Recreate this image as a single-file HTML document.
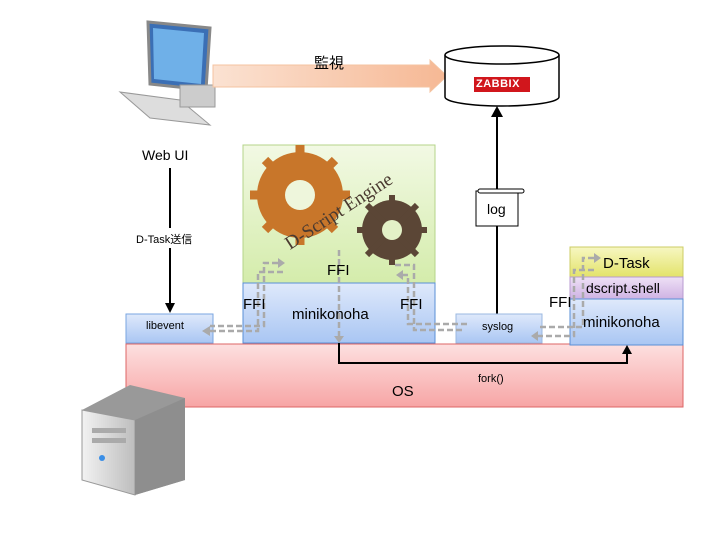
<!DOCTYPE html>
<html><head><meta charset="utf-8"><style>
body{margin:0;width:720px;height:540px;background:#fff;position:relative;overflow:hidden;font-family:"Liberation Sans","Noto Sans CJK JP",sans-serif}
.a{position:absolute}
</style></head><body>
<svg class="a" style="left:0;top:0" width="720" height="540">
<defs>
<linearGradient id="bl" x1="0" y1="0" x2="0" y2="1"><stop offset="0" stop-color="#dfe9fb"/><stop offset="1" stop-color="#a9c6f3"/></linearGradient>
<linearGradient id="rd" x1="0" y1="0" x2="0" y2="1"><stop offset="0" stop-color="#fde0e0"/><stop offset="1" stop-color="#f7a5a5"/></linearGradient>
<linearGradient id="gr" x1="0" y1="0" x2="0" y2="1"><stop offset="0" stop-color="#f2f9e4"/><stop offset="1" stop-color="#d4ecab"/></linearGradient>
<linearGradient id="ye" x1="0" y1="0" x2="0" y2="1"><stop offset="0" stop-color="#f7f7c2"/><stop offset="1" stop-color="#e3e36a"/></linearGradient>
<linearGradient id="pu" x1="0" y1="0" x2="0" y2="1"><stop offset="0" stop-color="#eee0f6"/><stop offset="1" stop-color="#cfb3e3"/></linearGradient>
<linearGradient id="or" x1="0" y1="0" x2="1" y2="0"><stop offset="0" stop-color="#fbe2d2"/><stop offset="1" stop-color="#f6b894"/></linearGradient>
<linearGradient id="srv" x1="0" y1="0" x2="1" y2="0"><stop offset="0" stop-color="#f2f2f2"/><stop offset="1" stop-color="#bdbdbd"/></linearGradient>
</defs>
<!-- computer -->
<polygon points="148,22 210,28 206,90 150,84" fill="#3b6fb5" stroke="#888" stroke-width="3"/>
<polygon points="153,28 204,33 201,84 154,79" fill="#6fb0e8"/>
<polygon points="120,92 180,100 210,125 150,118" fill="#ddd" stroke="#999"/>
<rect x="180" y="85" width="35" height="22" fill="#ccc" stroke="#999"/>
<!-- orange arrow -->
<polygon points="213,65 430,65 430,60 447,76 430,92 430,87 213,87" fill="url(#or)" stroke="#f4c3a0"/>
<!-- database -->
<path d="M445,55 v42 a57,9 0 0 0 114,0 v-42" fill="#fff" stroke="#000" stroke-width="1.5"/>
<ellipse cx="502" cy="55" rx="57" ry="9" fill="#fff" stroke="#000" stroke-width="1.5"/>
<rect x="474" y="77" width="56" height="15" fill="#d1161c"/>
<!-- log line and arrow -->
<line x1="497" y1="314" x2="497" y2="115" stroke="#000" stroke-width="2"/>
<polygon points="491,117 497,106 503,117" fill="#000"/>
<rect x="476" y="191" width="42" height="35" fill="#fff" stroke="#000"/>
<rect x="478" y="189" width="46" height="4" rx="2" fill="#fff" stroke="#000"/>
<!-- green box -->
<rect x="243" y="145" width="192" height="138" fill="url(#gr)" stroke="#b5d48a"/>
<circle cx="300" cy="195" r="43" fill="#c8762a"/>
<circle cx="392" cy="230" r="30" fill="#5b4636"/>
<g stroke="#c8762a" stroke-width="9"><line x1="300" y1="145" x2="300" y2="245"/><line x1="250" y1="195" x2="350" y2="195"/><line x1="265" y1="160" x2="335" y2="230"/><line x1="335" y1="160" x2="265" y2="230"/></g>
<g stroke="#5b4636" stroke-width="6"><line x1="392" y1="195" x2="392" y2="265"/><line x1="357" y1="230" x2="427" y2="230"/><line x1="367" y1="205" x2="417" y2="255"/><line x1="417" y1="205" x2="367" y2="255"/></g>
<circle cx="300" cy="195" r="15" fill="#eef6dc"/><circle cx="392" cy="230" r="10" fill="#e3f1c7"/>
<text x="290" y="250" transform="rotate(-33 290 250)" font-family="Liberation Serif,serif" font-size="19" fill="#4a3a30">D-Script Engine</text>
<rect x="243" y="283" width="192" height="60" fill="url(#bl)" stroke="#5a8fd6"/>
<!-- OS -->
<rect x="126" y="344" width="557" height="63" fill="url(#rd)" stroke="#d66"/>
<rect x="126" y="314" width="87" height="29" fill="url(#bl)" stroke="#7aa6e0"/>
<rect x="456" y="314" width="86" height="29" fill="url(#bl)" stroke="#9bb8e0"/>
<rect x="570" y="247" width="113" height="30" fill="url(#ye)" stroke="#cccc66"/>
<rect x="570" y="277" width="113" height="22" fill="url(#pu)" stroke="#b89bd0"/>
<rect x="570" y="299" width="113" height="46" fill="url(#bl)" stroke="#5a8fd6"/>
<!-- Web UI arrow -->
<line x1="170" y1="168" x2="170" y2="228" stroke="#000" stroke-width="2"/>
<line x1="170" y1="248" x2="170" y2="305" stroke="#000" stroke-width="2"/>
<polygon points="165,303 170,313 175,303" fill="#000"/>
<!-- fork -->
<polyline points="339,343 339,363 627,363 627,352" fill="none" stroke="#000" stroke-width="2"/>
<polygon points="622,354 627,345 632,354" fill="#000"/>
<!-- dashed -->
<g fill="none" stroke="#aaa" stroke-width="2.5" stroke-dasharray="6,3">
<polyline points="283,272 258,272 258,331 208,331"/>
<polyline points="278,263 264,263 264,326 210,326"/>
<polyline points="339,250 339,336"/>
<polyline points="395,265 414,265 414,330 463,330"/>
<polyline points="402,275 408,275 408,324 470,324"/>
<polyline points="537,336 574,336 574,270 597,270"/>
<polyline points="540,327 583,327 583,258 594,258"/>
</g>
<g fill="#aaa">
<polygon points="202,331 210,326 210,336"/>
<polygon points="285,263 278,258 278,268"/>
<polygon points="339,343 334,336 344,336"/>
<polygon points="396,275 403,270 403,280"/>
<polygon points="531,336 538,331 538,341"/>
<polygon points="601,258 594,253 594,263"/>
</g>
<!-- server -->
<polygon points="82,410 130,385 185,398 185,480 135,495 82,480" fill="#999"/>
<polygon points="82,410 135,420 135,495 82,480" fill="url(#srv)" stroke="#999"/>
<polygon points="135,420 185,398 185,480 135,495" fill="#8e8e8e"/>
<rect x="92" y="428" width="34" height="5" fill="#aaa"/><rect x="92" y="438" width="34" height="5" fill="#aaa"/>
<circle cx="102" cy="458" r="3" fill="#3a8ee6"/>
</svg>
<div class="a" style="left:142px;top:147px;font-size:14px">Web UI</div>
<div class="a" style="left:136px;top:231px;font-size:11px;background:#fff">D-Task送信</div>
<div class="a" style="left:314px;top:52px;font-size:15px">監視</div>
<div class="a" style="left:476px;top:78px;font-size:11px;color:#fff;font-weight:bold;letter-spacing:0.5px">ZABBIX</div>
<div class="a" style="left:487px;top:201px;font-size:14px">log</div>
<div class="a" style="left:146px;top:320px;font-size:11px">libevent</div>
<div class="a" style="left:482px;top:321px;font-size:11px">syslog</div>
<div class="a" style="left:292px;top:306px;font-size:15px">minikonoha</div>
<div class="a" style="left:583px;top:314px;font-size:15px">minikonoha</div>
<div class="a" style="left:586px;top:280px;font-size:14px">dscript.shell</div>
<div class="a" style="left:603px;top:255px;font-size:15px">D-Task</div>
<div class="a" style="left:243px;top:296px;font-size:15px">FFI</div>
<div class="a" style="left:327px;top:262px;font-size:15px">FFI</div>
<div class="a" style="left:400px;top:296px;font-size:15px">FFI</div>
<div class="a" style="left:549px;top:294px;font-size:15px">FFI</div>
<div class="a" style="left:392px;top:383px;font-size:15px">OS</div>
<div class="a" style="left:478px;top:373px;font-size:11px">fork()</div>
</body></html>
